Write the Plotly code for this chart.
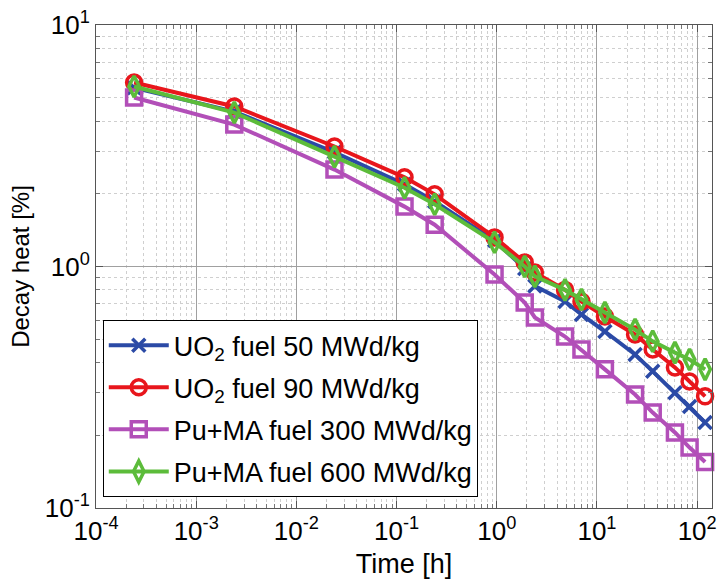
import plotly.graph_objects as go

time_h = [2.4e-4, 2.4e-3, 2.4e-2, 0.12, 0.24, 0.95, 1.9, 2.4, 4.8, 7.0, 12, 24, 36, 60, 84, 120]
uo2_50 = [5.5, 4.38, 2.97, 2.19, 1.86, 1.28, 0.98, 0.83, 0.716, 0.633, 0.538, 0.432, 0.368, 0.30, 0.263, 0.226]
uo2_90 = [5.78, 4.60, 3.14, 2.34, 1.99, 1.32, 1.04, 0.945, 0.80, 0.716, 0.621, 0.523, 0.453, 0.382, 0.334, 0.29]
puma_300 = [5.01, 3.87, 2.52, 1.77, 1.49, 0.926, 0.709, 0.615, 0.513, 0.453, 0.375, 0.295, 0.2485, 0.2055, 0.178, 0.155]
puma_600 = [5.56, 4.34, 2.85, 2.12, 1.81, 1.26, 1.0, 0.91, 0.80, 0.73, 0.645, 0.548, 0.49, 0.44, 0.412, 0.375]

series_names = ["UO<sub>2</sub> fuel 50 MWd/kg", "UO<sub>2</sub> fuel 90 MWd/kg",
                "Pu+MA fuel 300 MWd/kg", "Pu+MA fuel 600 MWd/kg"]
x_tickvals = [1e-4, 1e-3, 1e-2, 1e-1, 1e0, 1e1, 1e2]
x_ticktext = ["10<sup>-4</sup>", "10<sup>-3</sup>", "10<sup>-2</sup>", "10<sup>-1</sup>",
              "10<sup>0</sup>", "10<sup>1</sup>", "10<sup>2</sup>"]
y_tickvals = [0.1, 1, 10]
y_ticktext = ["10<sup>-1</sup>", "10<sup>0</sup>", "10<sup>1</sup>"]

x_minor = [m * 10.0 ** k for k in range(-4, 3) for m in range(2, 10)]
y_minor = [m * 10.0 ** k for k in range(-1, 1) for m in range(2, 10)]

colors = ["#2B4AA6", "#E8161C", "#B24FB8", "#5CBC3A"]
symbols = ["x-thin-open", "circle-open", "square-open", "diamond-tall-open"]
data = [uo2_50, uo2_90, puma_300, puma_600]

FONT = "Liberation Sans, Arial, sans-serif"

fig = go.Figure()
for i, (name, vals) in enumerate(zip(series_names, data)):
    fig.add_trace(go.Scatter(
        x=time_h, y=vals, name=name, mode="lines+markers",
        line=dict(color=colors[i], width=4),
        marker=dict(symbol=symbols[i], size=15 if i != 0 else 13,
                    color=colors[i], line=dict(color=colors[i], width=3.5)),
        legendgroup=str(i), cliponaxis=False,
    ))

axis_common = dict(
    showline=True, linecolor="#555", linewidth=1, mirror="ticks",
    ticks="inside", ticklen=7, tickcolor="#555",
    showgrid=True, gridcolor="#a0a0a0", gridwidth=1,
    tickfont=dict(size=26, color="black", family=FONT),
    zeroline=False, ticklabeloverflow="allow",
)

fig.update_xaxes(
    type="log", range=[-4, 2.148],
    tickvals=x_tickvals, ticktext=x_ticktext,
    title=dict(text="Time [h]", font=dict(size=27, color="black", family=FONT), standoff=8),
    minor=dict(tickvals=x_minor, ticks="inside", ticklen=4, tickcolor="#777", showgrid=True,
               gridcolor="#cfcfcf", griddash="dot", gridwidth=1),
    **axis_common,
)
fig.update_yaxes(
    type="log", range=[-1, 1],
    tickvals=y_tickvals, ticktext=y_ticktext,
    title=dict(text="Decay heat [%]", font=dict(size=24, color="black", family=FONT), standoff=8),
    minor=dict(tickvals=y_minor, ticks="inside", ticklen=4, tickcolor="#777", showgrid=True,
               gridcolor="#cfcfcf", griddash="dot", gridwidth=1),
    **axis_common,
)

fig.update_layout(
    width=721, height=584,
    margin=dict(l=96, r=4, t=25, b=76),
    paper_bgcolor="white", plot_bgcolor="white",
    font=dict(family=FONT, color="black"),
    showlegend=True,
    legend=dict(
        x=0.011, y=0.389, xanchor="left", yanchor="top",
        bgcolor="white", bordercolor="black", borderwidth=1,
        font=dict(size=27, color="black", family=FONT),
        tracegroupgap=4, itemwidth=60,
    ),
)

fig.write_html("out.html")
